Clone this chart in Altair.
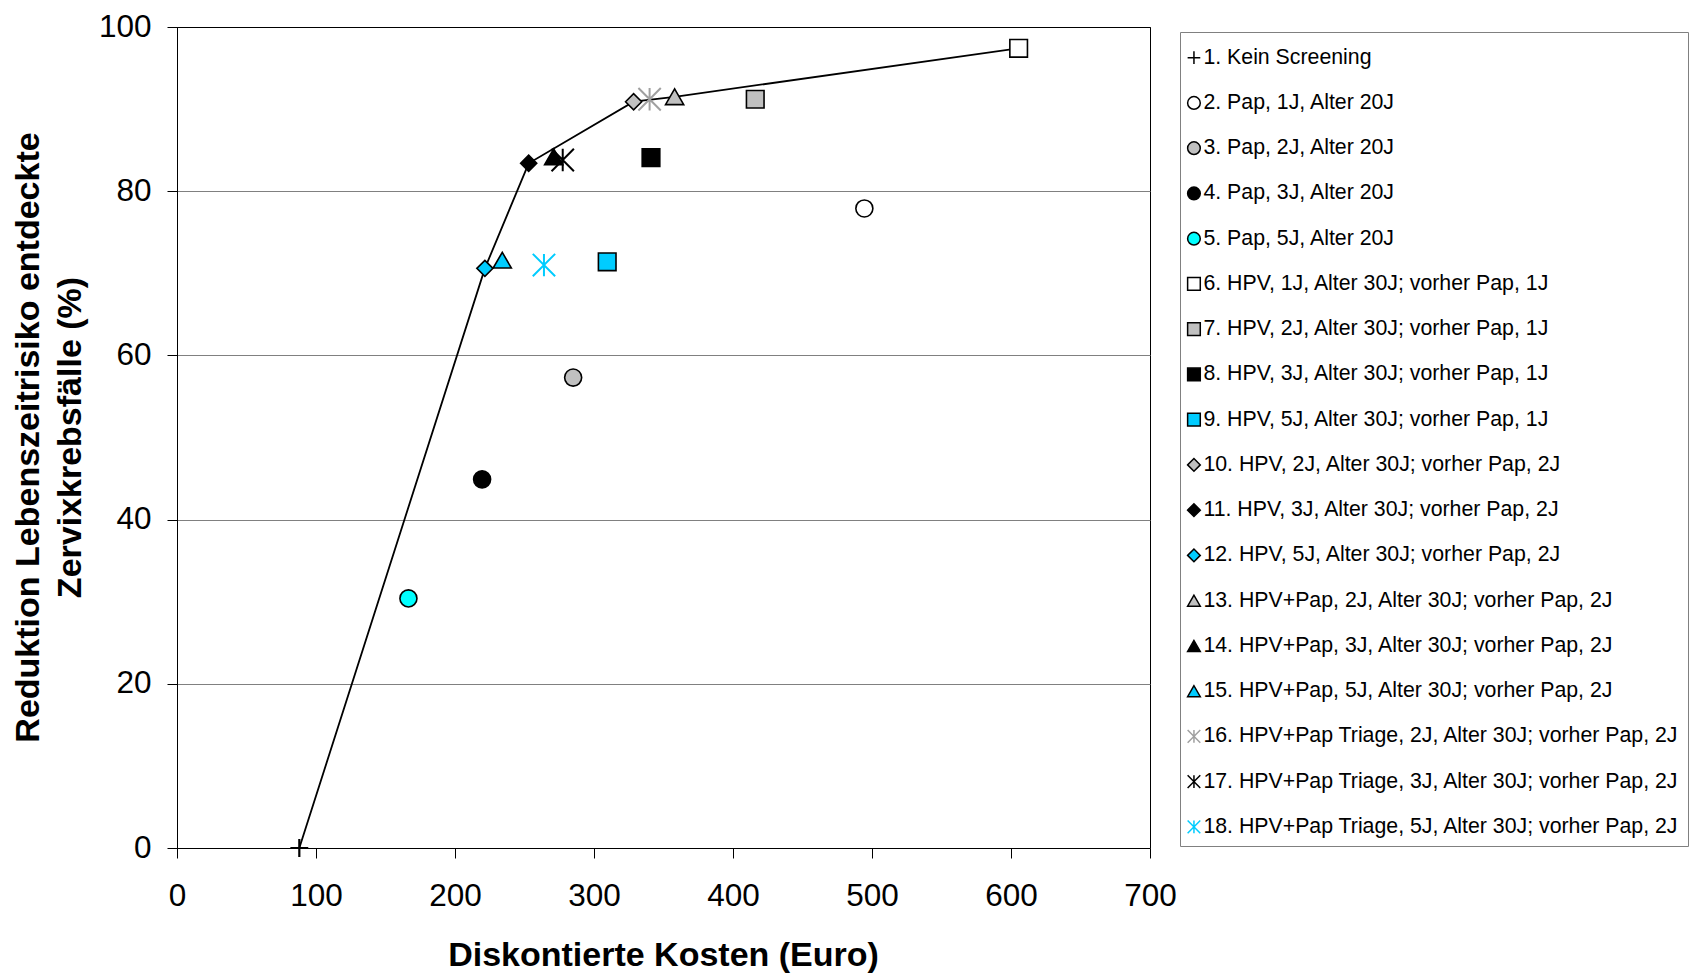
import altair as alt
import pandas as pd

# ---- data ----
LABELS = [
    "1. Kein Screening",
    "2. Pap, 1J, Alter 20J",
    "3. Pap, 2J, Alter 20J",
    "4. Pap, 3J, Alter 20J",
    "5. Pap, 5J, Alter 20J",
    "6. HPV, 1J, Alter 30J; vorher Pap, 1J",
    "7. HPV, 2J, Alter 30J; vorher Pap, 1J",
    "8. HPV, 3J, Alter 30J; vorher Pap, 1J",
    "9. HPV, 5J, Alter 30J; vorher Pap, 1J",
    "10. HPV, 2J, Alter 30J; vorher Pap, 2J",
    "11. HPV, 3J, Alter 30J; vorher Pap, 2J",
    "12. HPV, 5J, Alter 30J; vorher Pap, 2J",
    "13. HPV+Pap, 2J, Alter 30J; vorher Pap, 2J",
    "14. HPV+Pap, 3J, Alter 30J; vorher Pap, 2J",
    "15. HPV+Pap, 5J, Alter 30J; vorher Pap, 2J",
    "16. HPV+Pap Triage, 2J, Alter 30J; vorher Pap, 2J",
    "17. HPV+Pap Triage, 3J, Alter 30J; vorher Pap, 2J",
    "18. HPV+Pap Triage, 5J, Alter 30J; vorher Pap, 2J",
]
KOSTEN = [88, 494.5, 285, 219.5, 166.5, 605.5, 416, 341, 309.5,
          328.5, 253, 221.5, 358, 271, 234, 340, 277.5, 264]
REDUKTION = [0, 77.9, 57.3, 44.9, 30.4, 97.4, 91.2, 84.1, 71.4,
             90.9, 83.4, 70.6, 91.5, 84.2, 71.6, 91.2, 83.8, 71.0]
# strategies on the efficient frontier (by number), in line order
FRONTIER = [1, 12, 11, 10, 13, 6]

X_TICKS = [0, 100, 200, 300, 400, 500, 600, 700]
Y_TICKS = [0, 20, 40, 60, 80, 100]

# ---- styles ----
PLUS = "M-1,0L1,0M0,-1L0,1"
STAR = "M0,-1L0,1M-1,-1L1,1M-1,1L1,-1"
SHAPES = [PLUS] + ["circle"] * 4 + ["square"] * 4 + ["diamond"] * 3 + ["triangle-up"] * 3 + [STAR] * 3
FILLS = ["transparent", "white", "#C0C0C0", "black", "#00FFFF",
         "white", "#C0C0C0", "black", "#00CCFF",
         "#C0C0C0", "black", "#00CCFF",
         "#C0C0C0", "black", "#00CCFF",
         "transparent", "transparent", "transparent"]
STROKES = ["black"] * 15 + ["#A0A0A0", "black", "#00CCFF"]
SIZE_BY_SHAPE = {PLUS: 320, "circle": 290, "square": 310, "diamond": 260,
                 "triangle-up": 330, STAR: 500}
WIDTH_BY_SHAPE = {PLUS: 2.2, "circle": 1.6, "square": 1.6, "diamond": 1.6,
                  "triangle-up": 1.6, STAR: 2}

df = pd.DataFrame({
    "label": LABELS,
    "nr": list(range(1, len(LABELS) + 1)),
    "kosten": KOSTEN,
    "reduktion": REDUKTION,
})
df["sz"] = [SIZE_BY_SHAPE[s] for s in SHAPES]
df["sw"] = [WIDTH_BY_SHAPE[s] for s in SHAPES]

front = df.set_index("nr").loc[FRONTIER].reset_index()
front["ordnung"] = range(len(front))

FONT = "Liberation Sans"

x_enc = alt.X("kosten:Q", scale=alt.Scale(domain=[0, 700], nice=False, zero=True),
              axis=alt.Axis(values=X_TICKS, grid=False, title="Diskontierte Kosten (Euro)",
                            labelFontSize=31.5, labelFont=FONT, labelColor="black",
                            labelPadding=47, labelBaseline="alphabetic",
                            tickSize=10, tickColor="black", domainColor="black",
                            titleFontSize=34, titleFont=FONT, titleFontWeight="bold",
                            titleColor="black", titleBaseline="alphabetic",
                            titleY=117, titleX=486, titleAnchor="middle",
                            labelFlush=False, labelOverlap=False))
y_enc = alt.Y("reduktion:Q", scale=alt.Scale(domain=[0, 100], nice=False),
              axis=alt.Axis(values=Y_TICKS, grid=True,
                            gridColor={"condition": {"test": "datum.value === 100", "value": "black"},
                                       "value": "#808080"},
                            title=["Reduktion Lebenszeitrisiko entdeckte", "Zervixkrebsfälle (%)"],
                            labelFontSize=31.5, labelFont=FONT, labelColor="black",
                            labelPadding=16, labelBaseline="middle",
                            tickSize=10, tickColor="black", domainColor="black",
                            titleFontSize=34, titleFont=FONT, titleFontWeight="bold",
                            titleColor="black", titleLineHeight=42,
                            titleX=-149, titleY=410, titleAlign="center",
                            titleBaseline="middle", labelFlush=False, labelOverlap=False))

line = alt.Chart(front).mark_line(color="black", strokeWidth=1.8).encode(
    x=x_enc, y=y_enc, order="ordnung:Q"
)

legend = alt.Legend(orient="none", legendX=1003, legendY=5, title=" ",
                    titleFontSize=7, titlePadding=0,
                    labelFontSize=21.3, labelFont=FONT, labelColor="black",
                    labelLimit=800, labelOffset={"expr": "-1.2"}, symbolOffset={"expr": "-4.7"},
                    symbolSize=160, symbolStrokeWidth=1.5, rowPadding=23.25, padding=8,
                    strokeColor="#808080", fillColor="white")

points = alt.Chart(df).mark_point(filled=False, opacity=1).encode(
    x=x_enc, y=y_enc,
    shape=alt.Shape("label:N", scale=alt.Scale(domain=LABELS, range=SHAPES), legend=legend),
    fill=alt.Fill("label:N", scale=alt.Scale(domain=LABELS, range=FILLS), legend=legend),
    stroke=alt.Stroke("label:N", scale=alt.Scale(domain=LABELS, range=STROKES), legend=legend),
    size=alt.Size("sz:Q", scale=None, legend=None),
    strokeWidth=alt.StrokeWidth("sw:Q", scale=None, legend=None),
)

chart = alt.layer(line, points).properties(
    width=973, height=821,
    padding={"left": 177, "top": 27, "right": 539, "bottom": 125},
    autosize=alt.AutoSizeParams(type="none"),
    background="white",
).configure_view(stroke="black", strokeWidth=1)

chart.save("out.html", embed_options={"renderer": "svg", "actions": False})
